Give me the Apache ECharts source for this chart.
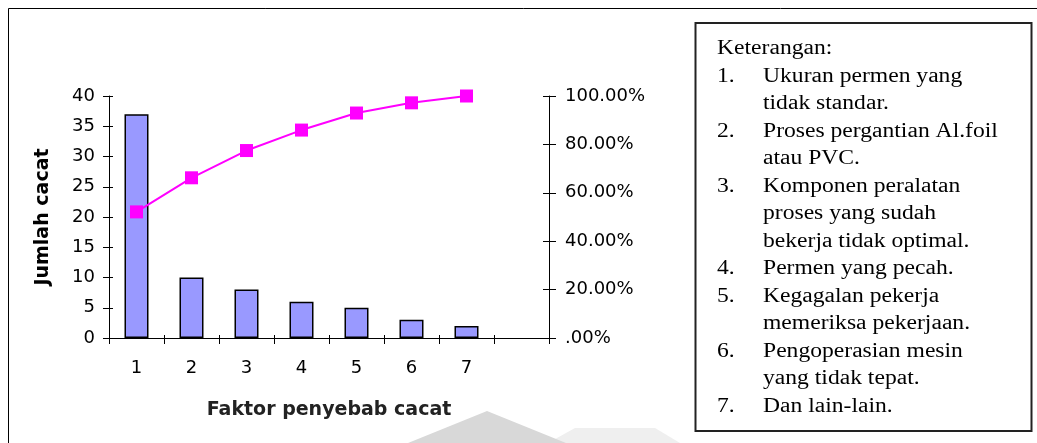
<!DOCTYPE html>
<html>
<head>
<meta charset="utf-8">
<script src="https://cdn.jsdelivr.net/npm/echarts@6/dist/echarts.min.js"></script>
<style>
html,body{margin:0;padding:0;background:#fff;}
#chart{width:1037px;height:443px;}
</style>
</head>
<body>
<div id="chart"></div>
<script>
// ---- data ----
var categories = ['1', '2', '3', '4', '5', '6', '7', ''];
var jumlahCacat = [37, 10, 8, 6, 5, 3, 2];
var kumulatifPersen = [52.11, 66.20, 77.46, 85.92, 92.96, 97.18, 100];
var leftTicks = { min: 0, max: 40, interval: 5 };
var rightTicks = { min: 0, max: 100, interval: 20 };
var yAxisTitle = 'Jumlah cacat';
var xAxisTitle = 'Faktor penyebab cacat';
var legendTitle = 'Keterangan:';
var legendItems = [
  ['1.', ['Ukuran permen yang', 'tidak standar.']],
  ['2.', ['Proses pergantian Al.foil', 'atau PVC.']],
  ['3.', ['Komponen peralatan', 'proses yang sudah', 'bekerja tidak optimal.']],
  ['4.', ['Permen yang pecah.']],
  ['5.', ['Kegagalan pekerja', 'memeriksa pekerjaan.']],
  ['6.', ['Pengoperasian mesin', 'yang tidak tepat.']],
  ['7.', ['Dan lain-lain.']]
];

// ---- styles ----
var SANS = '"DejaVu Sans", sans-serif';
var SERIF = '"Liberation Serif", "Times New Roman", serif';

var chart = echarts.init(document.getElementById('chart'), null, { renderer: 'canvas' });

var graphics = [];
graphics.push({
  type: 'rect', shape: { x: 8.5, y: 8.5, width: 1100, height: 500 },
  style: { fill: 'none', stroke: '#000', lineWidth: 1 }, silent: true, z: 0
});
graphics.push({
  type: 'polygon', shape: { points: [[548, 443], [575, 428], [655, 428], [680, 443]] },
  style: { fill: '#efefef' }, silent: true, z: 0
});
graphics.push({
  type: 'polygon', shape: { points: [[408, 443], [487, 411], [566, 443]] },
  style: { fill: '#d8d8d8' }, silent: true, z: 0
});
graphics.push({
  type: 'rect', shape: { x: 695.5, y: 23, width: 336, height: 408 },
  style: { fill: '#fff', stroke: '#222', lineWidth: 2 }, silent: true, z: 1
});
var lineH = 27.5, baseY = 49, xNum = 717, xTxt = 763, sx = 1.18;
function addText(t, x, y) {
  graphics.push({
    type: 'text', x: x, y: y, scaleX: sx, z: 2, silent: true,
    style: { text: t, font: '20px ' + SERIF, fill: '#000', align: 'left', verticalAlign: 'middle' }
  });
}
addText(legendTitle, xNum, baseY);
var row = 1;
legendItems.forEach(function (it) {
  addText(it[0], xNum, baseY + row * lineH);
  it[1].forEach(function (ln) {
    addText(ln, xTxt, baseY + row * lineH);
    row++;
  });
});

var axisLine = { show: true, lineStyle: { color: '#000', width: 1 } };
var lblStyle = { color: '#000', fontFamily: SANS, fontSize: 18 };

var option = {
  backgroundColor: '#fff',
  animation: false,
  grid: { left: 109, right: 488, top: 96, bottom: 105, containLabel: false },
  xAxis: [{
    type: 'category', data: categories, position: 'bottom',
    axisLine: axisLine,
    axisTick: { show: true, inside: false, length: 6, lineStyle: { color: '#000' } },
    axisLabel: Object.assign({ margin: 21 }, lblStyle),
    name: xAxisTitle, nameLocation: 'middle', nameGap: 63,
    nameTextStyle: { color: '#222', fontFamily: SANS, fontWeight: 'bold', fontSize: 19 }
  }, {
    type: 'category', data: categories, position: 'bottom',
    axisLine: { show: false },
    axisTick: { show: true, inside: true, length: 3, lineStyle: { color: '#000' } },
    axisLabel: { show: false }
  }],
  yAxis: [{
    type: 'value', position: 'left', min: leftTicks.min, max: leftTicks.max, interval: leftTicks.interval,
    axisLine: axisLine, splitLine: { show: false },
    axisTick: { show: true, inside: false, length: 6, lineStyle: { color: '#000' } },
    axisLabel: Object.assign({ margin: 14 }, lblStyle),
    name: yAxisTitle, nameLocation: 'middle', nameGap: 56, nameRotate: 90,
    nameTextStyle: { color: '#000', fontFamily: SANS, fontWeight: 'bold', fontSize: 19 }
  }, {
    type: 'value', position: 'right', min: rightTicks.min, max: rightTicks.max, interval: rightTicks.interval,
    axisLine: axisLine, splitLine: { show: false },
    axisTick: { show: true, inside: false, length: 7, lineStyle: { color: '#000' } },
    axisLabel: Object.assign({
      margin: 16,
      formatter: function (v) { return v === 0 ? '.00%' : v.toFixed(2) + '%'; }
    }, lblStyle)
  }, {
    type: 'value', position: 'left', min: leftTicks.min, max: leftTicks.max, interval: leftTicks.interval,
    axisLine: { show: false }, splitLine: { show: false }, axisLabel: { show: false },
    axisTick: { show: true, inside: true, length: 4, lineStyle: { color: '#000' } }
  }, {
    type: 'value', position: 'right', min: rightTicks.min, max: rightTicks.max, interval: rightTicks.interval,
    axisLine: { show: false }, splitLine: { show: false }, axisLabel: { show: false },
    axisTick: { show: true, inside: true, length: 6, lineStyle: { color: '#000' } }
  }],
  series: [{
    type: 'bar', data: jumlahCacat, xAxisIndex: 0, yAxisIndex: 0, barWidth: 24,
    itemStyle: { color: '#9999FF', borderColor: '#000', borderWidth: 1.5 }
  }, {
    type: 'line', data: kumulatifPersen, xAxisIndex: 0, yAxisIndex: 1,
    symbol: 'rect', symbolSize: 13,
    lineStyle: { color: '#FF00FF', width: 2 },
    itemStyle: { color: '#FF00FF' }
  }],
  graphic: graphics
};
chart.setOption(option);
</script>
</body>
</html>
